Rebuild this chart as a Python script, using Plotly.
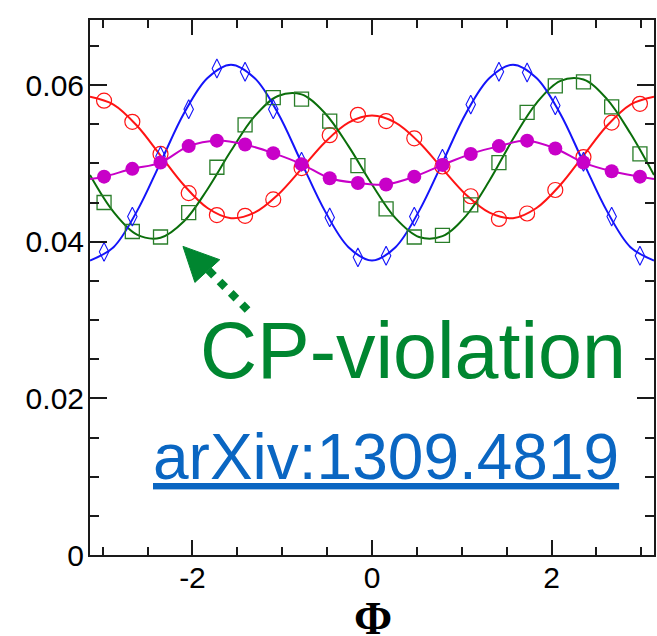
import numpy as np
import plotly.graph_objects as go

PI = np.pi

# Phase-bin centres (20 bins over [-pi, pi])
phi_bins = [-2.985, -2.670, -2.356, -2.042, -1.728, -1.414, -1.100, -0.785, -0.471, -0.157,
            0.157, 0.471, 0.785, 1.100, 1.414, 1.728, 2.042, 2.356, 2.670, 2.985]

# Binned distributions
red_pts = [0.0580, 0.0553, 0.0512, 0.0462, 0.0434, 0.0433, 0.0454, 0.0494, 0.0536, 0.0562,
           0.0554, 0.0532, 0.0496, 0.0458, 0.0429, 0.0436, 0.0466, 0.0508, 0.0552, 0.0576]
blue_pts = [0.0387, 0.0432, 0.0509, 0.0569, 0.0621, 0.0617, 0.0569, 0.0502, 0.0431, 0.0380,
            0.0382, 0.0432, 0.0506, 0.0575, 0.0617, 0.0616, 0.0574, 0.0502, 0.0432, 0.0382]
green_pts = [0.0450, 0.0413, 0.0406, 0.0437, 0.0495, 0.0549, 0.0584, 0.0582, 0.0554, 0.0497,
             0.0442, 0.0406, 0.0408, 0.0447, 0.0501, 0.0565, 0.0599, 0.0604, 0.0572, 0.0512]
magenta_pts = [0.0483, 0.0493, 0.0501, 0.0522, 0.0529, 0.0524, 0.0513, 0.0499, 0.0481, 0.0475,
               0.0473, 0.0483, 0.0498, 0.0512, 0.0522, 0.0529, 0.0519, 0.0501, 0.0490, 0.0483]
magenta_edge = 0.0480

# Fitted curves sampled every pi/12
phi_fit = [-3.1416, -2.8798, -2.6180, -2.3562, -2.0944, -1.8326, -1.5708, -1.3090, -1.0472,
           -0.7854, -0.5236, -0.2618, 0.0, 0.2618, 0.5236, 0.7854, 1.0472, 1.3090, 1.5708,
           1.8326, 2.0944, 2.3562, 2.6180, 2.8798, 3.1416]
blue_fit = [0.0376, 0.0393, 0.0439, 0.0501, 0.0564, 0.0609, 0.0626, 0.0609, 0.0564, 0.0501,
            0.0439, 0.0393, 0.0376, 0.0393, 0.0439, 0.0501, 0.0564, 0.0609, 0.0626, 0.0609,
            0.0564, 0.0501, 0.0439, 0.0393, 0.0376]
red_fit = [0.0585, 0.0575, 0.0548, 0.0510, 0.0472, 0.0443, 0.0430, 0.0437, 0.0460, 0.0493,
           0.0527, 0.0552, 0.0561, 0.0552, 0.0527, 0.0493, 0.0460, 0.0437, 0.0430, 0.0443,
           0.0472, 0.0510, 0.0548, 0.0575, 0.0585]
green_fit = [0.0485, 0.0438, 0.0409, 0.0405, 0.0426, 0.0467, 0.0516, 0.0560, 0.0586, 0.0588,
             0.0564, 0.0522, 0.0473, 0.0430, 0.0406, 0.0407, 0.0433, 0.0478, 0.0531, 0.0577,
             0.0605, 0.0607, 0.0582, 0.0538, 0.0485]

# Axis ticks
x_tickvals = [-2, 0, 2]
x_ticktext = ["-2", "0", "2"]
x_minor_ticks = [-3, -2.5, -1.5, -1, -0.5, 0.5, 1, 1.5, 2.5, 3]
y_tickvals = [0, 0.02, 0.04, 0.06]
y_ticktext = ["0", "0.02", "0.04", "0.06"]

RED = "rgb(255,20,20)"
BLUE = "rgb(20,20,250)"
GREEN = "rgb(10,110,10)"
SQUARE_GREEN = "rgb(40,125,40)"
MAGENTA = "rgb(200,0,200)"
ANNOT_GREEN = "rgb(0,134,48)"
LINK_BLUE = "rgb(10,102,194)"
AXIS = "#1a1a1a"
FONT = "Liberation Sans, Arial, Helvetica, sans-serif"

fig = go.Figure()

# fitted curves
fig.add_trace(go.Scatter(x=phi_fit, y=red_fit, mode="lines",
                         line=dict(color=RED, width=2, shape="spline")))
fig.add_trace(go.Scatter(x=phi_fit, y=green_fit, mode="lines",
                         line=dict(color=GREEN, width=2, shape="spline")))
fig.add_trace(go.Scatter(x=phi_fit, y=blue_fit, mode="lines",
                         line=dict(color=BLUE, width=2, shape="spline")))

# binned points (open symbols take their stroke colour from marker.color)
fig.add_trace(go.Scatter(x=phi_bins, y=red_pts, mode="markers",
                         marker=dict(symbol="circle-open", size=15, color=RED,
                                     line=dict(width=1.2))))
fig.add_trace(go.Scatter(x=phi_bins, y=green_pts, mode="markers",
                         marker=dict(symbol="square-open", size=14, color=SQUARE_GREEN,
                                     line=dict(width=1.3))))
fig.add_trace(go.Scatter(x=phi_bins, y=blue_pts, mode="markers",
                         marker=dict(symbol="diamond-tall-open", size=13.5, color=BLUE,
                                     line=dict(width=1.1))))

# magenta distribution: points joined by a smooth line
fig.add_trace(go.Scatter(x=[-PI] + phi_bins + [PI],
                         y=[magenta_edge] + magenta_pts + [magenta_edge],
                         mode="lines", line=dict(color=MAGENTA, width=2, shape="spline")))
fig.add_trace(go.Scatter(x=phi_bins, y=magenta_pts, mode="markers",
                         marker=dict(symbol="circle", size=14, color=MAGENTA)))

# dotted arrow pointing at the CP-violating curve
fig.add_shape(type="line", xref="x", yref="y",
              x0=-1.823, y0=0.03638, x1=-1.384, y1=0.03125,
              line=dict(color=ANNOT_GREEN, width=8, dash="8px,8px"))
fig.add_shape(type="path", xref="x", yref="y",
              path="M -2.106 0.0394 L -1.696 0.0377 L -1.973 0.0348 Z",
              fillcolor=ANNOT_GREEN, line=dict(color=ANNOT_GREEN, width=1))

fig.add_annotation(text="CP-violation", xref="paper", yref="paper",
                   x=0.5724, y=0.383, xanchor="center", yanchor="middle",
                   showarrow=False, font=dict(family=FONT, size=79, color=ANNOT_GREEN))
fig.add_annotation(text="<u>arXiv:1309.4819</u>", xref="paper", yref="paper",
                   x=0.5256, y=0.183, xanchor="center", yanchor="middle",
                   showarrow=False, font=dict(family=FONT, size=64, color=LINK_BLUE))
fig.add_annotation(text="<b>Φ</b>", xref="paper", yref="paper",
                   x=0.5018, y=-0.067, xanchor="center", yanchor="top",
                   showarrow=False,
                   font=dict(family="Liberation Serif, Times New Roman, serif", size=46,
                             color="black"))

axis_common = dict(showline=True, linecolor=AXIS, linewidth=2, mirror="ticks",
                   ticks="inside", tickwidth=1.6, tickcolor=AXIS,
                   showgrid=False, zeroline=False,
                   tickfont=dict(family=FONT, size=30, color="black"))

fig.update_xaxes(range=[-PI, PI], tickmode="array", tickvals=x_tickvals, ticktext=x_ticktext,
                 ticklen=15, ticklabelstandoff=-5,
                 minor=dict(ticks="inside", tickmode="array", tickvals=x_minor_ticks,
                            ticklen=8, tickwidth=1.6, tickcolor=AXIS, showgrid=False),
                 **axis_common)
fig.update_yaxes(range=[0, 0.0683], tickmode="array", tickvals=y_tickvals, ticktext=y_ticktext,
                 ticklen=17, ticklabelstandoff=-2,
                 minor=dict(ticks="inside", dtick=0.005, tick0=0,
                            ticklen=9, tickwidth=1.6, tickcolor=AXIS, showgrid=False),
                 **axis_common)

fig.update_layout(width=657, height=636, margin=dict(l=90, r=1, t=20, b=81),
                  paper_bgcolor="white", plot_bgcolor="white", showlegend=False)

fig.write_html("out.html")
